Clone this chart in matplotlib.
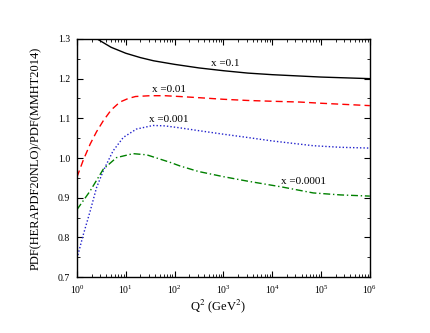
import matplotlib
matplotlib.use("Agg")
import matplotlib.pyplot as plt
import numpy as np
from matplotlib.ticker import LogLocator, MultipleLocator, NullFormatter

plt.rcParams["font.family"] = ["Liberation Serif", "DejaVu Serif"]
plt.rcParams["mathtext.fontset"] = "stix"

lq_01 = [0.0, 0.2, 0.44, 0.7, 1.0, 1.3, 1.57, 2.0, 2.5, 3.0, 3.5, 4.0, 4.5, 5.0, 5.5, 6.0]
r_01 = [1.335, 1.318, 1.298, 1.279, 1.264, 1.253, 1.245, 1.236, 1.227, 1.220, 1.214, 1.210, 1.207, 1.204, 1.202, 1.200]

lq_001 = [0.0, 0.13, 0.27, 0.4, 0.54, 0.7, 0.88, 1.05, 1.2, 1.5, 1.8, 2.1, 2.5, 3.0, 3.5, 4.0, 4.57, 5.0, 5.5, 6.0]
r_001 = [0.952, 0.995, 1.035, 1.066, 1.094, 1.121, 1.141, 1.150, 1.155, 1.157, 1.157, 1.155, 1.152, 1.148, 1.145, 1.143, 1.141, 1.138, 1.135, 1.132]

lq_0001 = [0.0, 0.13, 0.27, 0.4, 0.54, 0.74, 0.95, 1.22, 1.56, 1.8, 2.11, 2.49, 3.0, 3.48, 4.0, 4.84, 5.4, 6.0]
r_0001 = [0.747, 0.807, 0.866, 0.925, 0.968, 1.018, 1.052, 1.073, 1.082, 1.081, 1.076, 1.069, 1.060, 1.052, 1.043, 1.031, 1.027, 1.025]

lq_00001 = [0.0, 0.27, 0.54, 0.81, 1.15, 1.43, 1.91, 2.11, 2.49, 3.0, 3.48, 4.2, 4.84, 5.4, 6.0]
r_00001 = [0.870, 0.917, 0.972, 1.001, 1.011, 1.008, 0.989, 0.980, 0.966, 0.953, 0.942, 0.927, 0.912, 0.907, 0.904]

fig = plt.figure(figsize=(4.3, 3.33), dpi=100)
ax = fig.add_axes([0.179, 0.168, 0.681, 0.715])

ax.plot(10 ** np.array(lq_01), r_01, color="black", lw=1.0, ls="-")
ax.plot(10 ** np.array(lq_001), r_001, color="red", lw=1.0, ls=(0, (5, 3)))
ax.plot(10 ** np.array(lq_0001), r_0001, color="#2222cc", lw=1.0, ls=(0, (1, 1.5)))
ax.plot(10 ** np.array(lq_00001), r_00001, color="green", lw=1.0, ls=(0, (5, 2, 1, 2)))

ax.text(10 ** 3.03, 1.237, "x =0.1", fontsize=8, ha="center", va="center")
ax.text(10 ** 1.89, 1.172, "x =0.01", fontsize=8, ha="center", va="center")
ax.text(10 ** 1.89, 1.097, "x =0.001", fontsize=8, ha="center", va="center")
ax.text(10 ** 4.64, 0.941, "x =0.0001", fontsize=8, ha="center", va="center")

ax.set_xscale("log")
ax.set_xlim(1, 1e6)
ax.set_ylim(0.7, 1.3)
ax.xaxis.set_major_locator(LogLocator(base=10, numticks=10))
ax.xaxis.set_minor_locator(LogLocator(base=10, subs=np.arange(2, 10), numticks=10))
ax.xaxis.set_minor_formatter(NullFormatter())
ax.yaxis.set_major_locator(MultipleLocator(0.1))
ax.yaxis.set_minor_locator(MultipleLocator(0.05))
ax.yaxis.set_major_formatter(plt.FuncFormatter(lambda v, p: f"{v:.1f}"))

ax.tick_params(which="both", direction="in", top=True, right=True, labelsize=7, pad=5)
ax.tick_params(which="major", length=4, width=0.8)
ax.tick_params(which="minor", length=2, width=0.6)
for s in ax.spines.values():
    s.set_linewidth(1.0)

ax.set_xlabel("Q$^2$ (GeV$^2$)", fontsize=9, labelpad=3)
ax.xaxis.set_label_coords(0.48, -0.085)
ax.set_ylabel("PDF(HERAPDF20NLO)/PDF(MMHT2014)", fontsize=9)
ax.yaxis.set_label_coords(-0.12, 0.5)

fig.savefig("out.png", dpi=100)
